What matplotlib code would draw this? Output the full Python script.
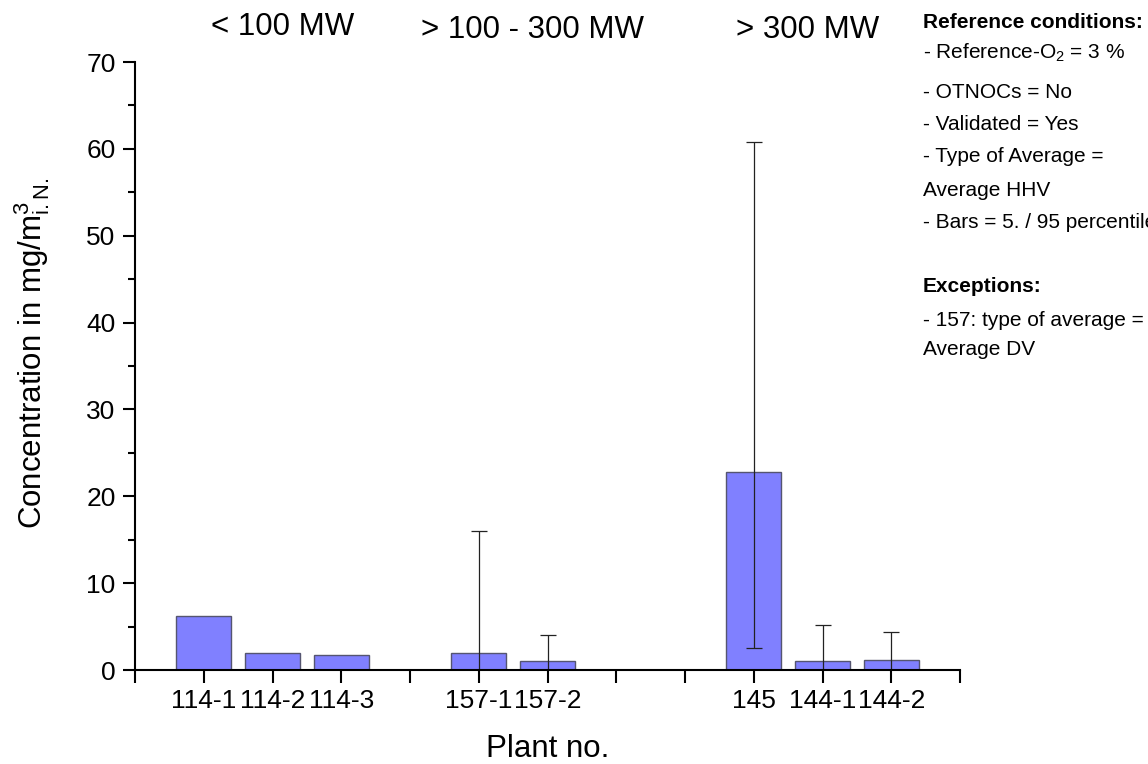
import matplotlib
matplotlib.use("Agg")
import matplotlib.pyplot as plt
from matplotlib.ticker import MultipleLocator, FixedLocator, NullFormatter

plt.rcParams['font.family'] = ['Liberation Sans', 'DejaVu Sans']
plt.rcParams['mathtext.fontset'] = 'custom'
plt.rcParams['mathtext.rm'] = 'Liberation Sans'
plt.rcParams['mathtext.it'] = 'Liberation Sans:italic'
plt.rcParams['mathtext.bf'] = 'Liberation Sans:bold'

# Plant labels and their slots on the category axis
plants = ["114-1", "114-2", "114-3", "157-1", "157-2", "145", "144-1", "144-2"]
slots = [1, 2, 3, 5, 6, 9, 10, 11]
# Mean concentration per plant (mg/m3 i.N.)
means = [6.2, 2.0, 1.7, 2.0, 1.0, 22.8, 1.0, 1.1]
# 5th / 95th percentile (None = not shown)
p05 = [None, None, None, 0.0, 0.0, 2.5, 0.0, 0.0]
p95 = [None, None, None, 16.0, 4.0, 60.8, 5.2, 4.4]

groups = ["< 100 MW", "> 100 - 300 MW", "> 300 MW"]
group_x = [2.15, 5.78, 9.79]
group_y = [1.044, 1.039, 1.039]

notes = [
    ("Reference conditions:", True),
    ("- Reference-O$_2$ = 3 %", False),
    ("- OTNOCs = No", False),
    ("- Validated = Yes", False),
    ("- Type of Average =", False),
    ("Average HHV", False),
    ("- Bars = 5. / 95 percentile", False),
    ("Exceptions:", True),
    ("- 157: type of average =", False),
    ("Average DV", False),
]
note_y_px = [22, 53, 92, 125, 157, 190, 223, 287, 320, 350]

W, H = 1148, 764
fig = plt.figure(figsize=(W / 100, H / 100), dpi=100)
ax = fig.add_axes([135 / W, (H - 670) / H, (960 - 135) / W, (670 - 62) / H])

ax.bar(slots, means, width=0.8, color="#8080ff", edgecolor="#555570", linewidth=1.0, zorder=2)

for x, m, lo, hi in zip(slots, means, p05, p95):
    if hi is None:
        continue
    ax.errorbar([x], [m], yerr=[[m - lo], [hi - m]], fmt="none", ecolor="#222222",
                elinewidth=0.9, capsize=5.5, capthick=0.9, zorder=3)

ax.set_xlim(0, 12)
ax.set_ylim(0, 70)
ax.spines['top'].set_visible(False)
ax.spines['right'].set_visible(False)
ax.spines['left'].set_linewidth(1.5)
ax.spines['bottom'].set_linewidth(1.5)
ax.spines['bottom'].set_zorder(4)

ax.xaxis.set_major_locator(FixedLocator(list(range(0, 13))))
ax.set_xticklabels(["" if i not in slots else plants[slots.index(i)] for i in range(13)])
ax.yaxis.set_major_locator(MultipleLocator(10))
ax.yaxis.set_minor_locator(MultipleLocator(5))
ax.yaxis.set_minor_formatter(NullFormatter())
ax.tick_params(axis='both', which='major', direction='out', length=9, width=1.5, labelsize=19)
ax.tick_params(axis='y', which='major', pad=5)
ax.tick_params(axis='y', which='minor', direction='out', length=5, width=1.5)
ax.tick_params(axis='x', which='major', pad=5)

ax.set_ylabel("Concentration in mg/m$^3_{\\mathrm{i.N.}}$", fontsize=22.5)
ax.yaxis.set_label_coords(-0.1, 0.52)
ax.set_xlabel("Plant no.", fontsize=22.5)
ax.xaxis.set_label_coords(0.5, -0.105)

for g, gx, gy in zip(groups, group_x, group_y):
    ax.text(gx, gy, g, transform=ax.get_xaxis_transform(), ha="center", va="baseline", fontsize=22.5)

for (txt, bold), ypx in zip(notes, note_y_px):
    fig.text(923 / W, 1 - ypx / H, txt, ha="left", va="center", fontsize=15,
             fontweight="bold" if bold else "normal")

fig.savefig("out.png", dpi=100)
